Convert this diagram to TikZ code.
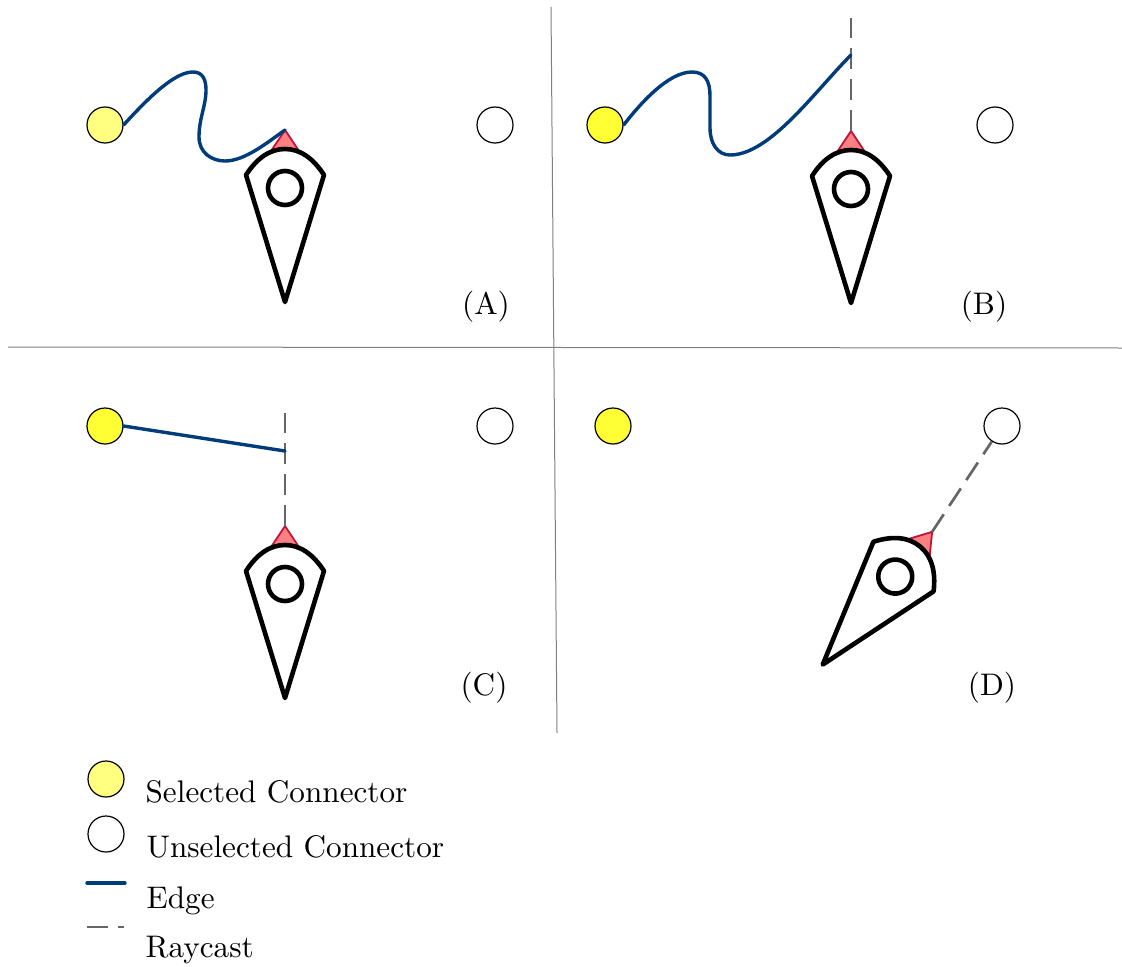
\documentclass[tikz,border=0pt]{standalone}
\usepackage{xcolor}
\usepackage{tikz}
\usetikzlibrary{arrows.meta,positioning,calc}
\definecolor{edgeblue}{RGB}{0,59,122}
\definecolor{paleyellow}{RGB}{255,255,128}
\definecolor{brightyellow}{RGB}{255,255,51}
\definecolor{tipred}{RGB}{192,20,60}
\definecolor{tipfill}{RGB}{255,128,128}
\tikzset{
  conbox/.style={draw=black, circle, line width=0.6pt, fill=white, minimum size=18pt, inner sep=0pt},
  conpale/.style={conbox, fill=paleyellow},
  consel/.style={conbox, fill=brightyellow},
  edgeline/.style={draw=edgeblue, line width=1.7pt, line cap=round},
  rayline/.style={draw=black!60, line width=1.35pt, dash pattern=on 10.5pt off 5pt},
  divline/.style={draw=black!50, line width=0.5pt},
  lbl/.style={font=\fontsize{10}{12}\selectfont, scale=1.56, transform shape, inner sep=0pt},
  ship/.pic={
    \draw[draw=tipred, fill=tipfill, line width=0.9pt, line join=round] (-16,146) -- (0,170) -- (16,146) -- cycle;
    \draw[line width=2.3pt, fill=white, line join=round] (0,-2) -- (-39,125) .. controls (-28,142) and (-15,151) .. (0,151) .. controls (15,151) and (28,142) .. (39,125) -- cycle;
    \draw[line width=2.3pt] (0,112) circle (17);
    \coordinate (-apex) at (0,170);
  }
}
\begin{document}
\begin{tikzpicture}[x=0.5pt, y=0.5pt]
  \useasboundingbox (0,0) rectangle (1122,966);
  \coordinate (vtop) at (551,959);
  \coordinate (vbot) at (557,233);
  \coordinate (hleft) at (8,619);
  \coordinate (hright) at (1122,618);
  \draw[divline] (vtop) -- (vbot);
  \draw[divline] (hleft) -- (hright);

  \node[conpale] (ca) at (105,841) {};
  \node[conbox] (ua) at (495,841) {};
  \pic (shipa) at (285,666) {ship};
  \draw[edgeline] (ca.east) .. controls (150,870) and (175,894) .. (193,894) .. controls (203,894) and (206,886) .. (206,876) .. controls (206,860) and (199,848) .. (199,829) .. controls (199,813) and (212,805) .. (225,805) .. controls (245,805) and (268,824) .. (shipa-apex);
  \node[lbl] (la) at (486,659) {(A)};

  \node[consel] (cb) at (605,841) {};
  \node[conbox] (ub) at (995,841) {};
  \pic (shipb) at (851,665) {ship};
  \coordinate (topb) at (851,948);
  \coordinate (hitb) at (851,911);
  \draw[rayline] (shipb-apex) -- (topb);
  \draw[edgeline] (cb.east) .. controls (640,862) and (668,894) .. (692,894) .. controls (705,894) and (710,885) .. (710,870) .. controls (710,858) and (710,850) .. (710,838) .. controls (710,822) and (718,811) .. (730,811) .. controls (770,811) and (815,875) .. (hitb);
  \node[lbl] (lb) at (984,659) {(B)};

  \node[consel] (cc) at (105,540) {};
  \node[conbox] (uc) at (495,540) {};
  \pic (shipc) at (285,270) {ship};
  \coordinate (topc) at (285,553);
  \coordinate (hitc) at (285,515);
  \draw[rayline] (shipc-apex) -- (topc);
  \draw[edgeline] (cc.east) -- (hitc);
  \node[lbl] (lc) at (484,278) {(C)};

  \node[consel] (cd) at (613,540) {};
  \node[conbox] (ud) at (1002,540) {};
  \pic[rotate=-39.5] (shipd) at (824,303) {ship};
  \draw[rayline] (shipd-apex) -- (ud);
  \node[lbl] (ld) at (992,278) {(D)};

  \node[conpale] (kselc) at (106,187) {};
  \node[conbox] (kunsc) at (106,132) {};
  \coordinate (kea) at (87,83);
  \coordinate (keb) at (125,83);
  \coordinate (kra) at (87,39);
  \coordinate (krb) at (124,39);
  \draw[edgeline] (kea) -- (keb);
  \draw[rayline] (kra) -- (krb);
  \node[lbl, anchor=base west] (tsel) at (145,164) {Selected Connector};
  \node[lbl, anchor=base west] (tuns) at (146,109) {Unselected Connector};
  \node[lbl, anchor=base west] (tedge) at (146,58) {Edge};
  \node[lbl, anchor=base west] (tray) at (145,9) {Raycast};
\end{tikzpicture}
\end{document}
